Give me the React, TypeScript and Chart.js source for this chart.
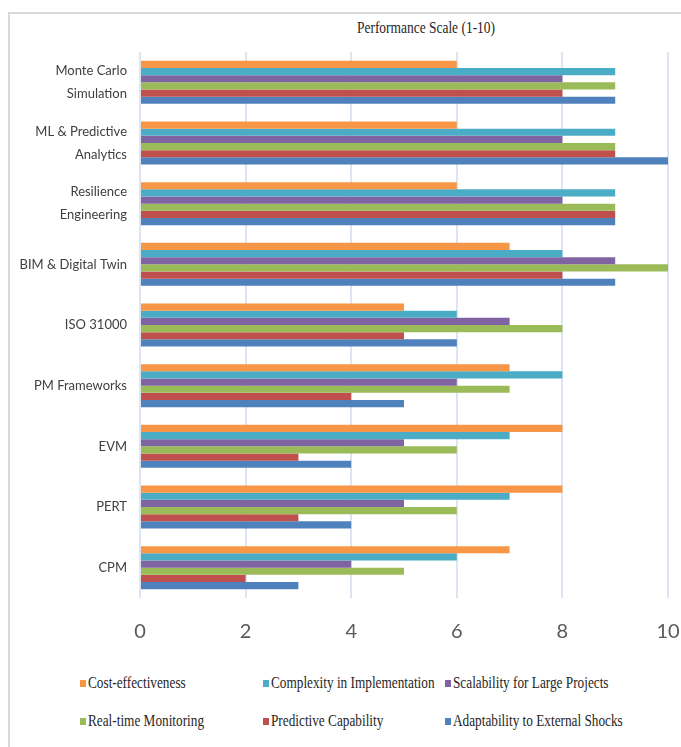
import React, { useEffect, useRef } from "react";
import { Chart, registerables } from "chart.js";

Chart.register(...registerables);

const categories: (string | string[])[] = [
  ["Monte Carlo", "Simulation"],
  ["ML & Predictive", "Analytics"],
  ["Resilience", "Engineering"],
  "BIM & Digital Twin",
  "ISO 31000",
  "PM Frameworks",
  "EVM",
  "PERT",
  "CPM",
];

const seriesNames = [
  "Cost-effectiveness",
  "Complexity in Implementation",
  "Scalability for Large Projects",
  "Real-time Monitoring",
  "Predictive Capability",
  "Adaptability to External Shocks",
];

const costEffectiveness = [6, 6, 6, 7, 5, 7, 8, 8, 7];
const complexity = [9, 9, 9, 8, 6, 8, 7, 7, 6];
const scalability = [8, 8, 8, 9, 7, 6, 5, 5, 4];
const realTime = [9, 9, 9, 10, 8, 7, 6, 6, 5];
const predictive = [8, 9, 9, 8, 5, 4, 3, 3, 2];
const adaptability = [9, 10, 9, 9, 6, 5, 4, 4, 3];

const xTicks = [0, 2, 4, 6, 8, 10];

const colors = ["#F79646", "#4BACC6", "#8064A2", "#9BBB59", "#C0504D", "#4F81BD"];

const titleText = "Performance Scale (1-10)";

const sans = "Lato, 'Liberation Sans', sans-serif";
const serif = "'Liberation Serif', 'Times New Roman', serif";

export default function App() {
  const ref = useRef<HTMLCanvasElement | null>(null);

  useEffect(() => {
    document.documentElement.style.overflow = "hidden";
    document.body.style.overflow = "hidden";
    if (!ref.current) return;
    const values = [costEffectiveness, complexity, scalability, realTime, predictive, adaptability];
    const chart = new Chart(ref.current, {
      type: "bar",
      data: {
        labels: categories,
        datasets: seriesNames.map((name, i) => ({
          label: name,
          data: values[i],
          backgroundColor: colors[i],
          borderWidth: 0,
          categoryPercentage: 0.71,
          barPercentage: 1.0,
        })),
      },
      options: {
        indexAxis: "y",
        responsive: false,
        animation: false,
        layout: { padding: { top: 38, right: 13, left: 0, bottom: 0 } },
        plugins: {
          legend: { display: false },
          title: { display: false },
          tooltip: { enabled: false },
        },
        scales: {
          x: {
            min: 0,
            max: 10,
            afterBuildTicks: (scale: any) => {
              scale.ticks = xTicks.map((v) => ({ value: v }));
            },
            afterFit: (scale: any) => {
              scale.paddingLeft = 0;
              scale.paddingRight = 0;
            },
            grid: { color: "#dce5f1", lineWidth: 2, drawTicks: false },
            border: { display: false },
            ticks: {
              padding: 22,
              color: "#595959",
              font: { family: sans, size: 20 },
            },
          },
          y: {
            afterFit: (scale: any) => {
              scale.width = 130;
              scale.paddingTop = 0;
              scale.paddingBottom = 0;
            },
            grid: { display: false, drawTicks: false },
            border: { display: false },
            ticks: {
              padding: 13,
              color: "#404040",
              font: { family: sans, size: 13, lineHeight: 1.77 },
            },
          },
        },
      },
    });
    return () => chart.destroy();
  }, []);

  return (
    <div
      style={{
        position: "fixed",
        left: 8,
        top: 12,
        width: 673,
        height: 735,
        borderTop: "2px solid #d9d9d9",
        borderLeft: "2px solid #d9d9d9",
        boxSizing: "border-box",
        background: "#fff",
      }}
    >
      <div
        style={{
          position: "absolute",
          left: 416,
          top: 5,
          transform: "translateX(-50%) scaleX(0.84)",
          whiteSpace: "nowrap",
          fontFamily: serif,
          fontSize: 16,
          lineHeight: "18px",
          color: "#262626",
        }}
      >
        {titleText}
      </div>
      <canvas
        ref={ref}
        width={671}
        height={652}
        style={{ position: "absolute", left: 0, top: 0, width: 671, height: 652 }}
      />
      <div
        style={{
          position: "absolute",
          left: 70,
          top: 659,
          display: "grid",
          gridTemplateColumns: "183px 182px auto",
          gridAutoRows: "38px",
          fontFamily: serif,
          fontSize: 17,
          color: "#262626",
        }}
      >
        {seriesNames.map((name, i) => (
          <div key={name} style={{ display: "flex", alignItems: "center", height: 20, whiteSpace: "nowrap" }}>
            <span
              style={{
                display: "inline-block",
                width: 6,
                height: 7,
                background: colors[i],
                marginRight: 2,
                flex: "none",
              }}
            />
            <span style={{ display: "inline-block", transform: "scaleX(0.78)", transformOrigin: "left center" }}>
              {name}
            </span>
          </div>
        ))}
      </div>
    </div>
  );
}
